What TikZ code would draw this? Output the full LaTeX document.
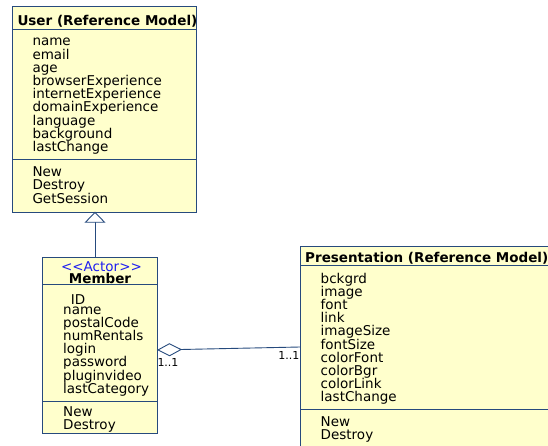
\documentclass[tikz,border=0pt]{standalone}
\usepackage{fontspec}
\setmainfont{DejaVu Sans}
\usetikzlibrary{arrows.meta}
\definecolor{umlborder}{RGB}{38,74,125}
\definecolor{umlfill}{RGB}{255,255,204}
\definecolor{stereoblue}{RGB}{30,30,240}
\tikzset{
  classbox/.style={draw=umlborder, fill=umlfill, line width=0.9pt, inner sep=0pt, anchor=north west},
  sepline/.style={draw=umlborder, line width=0.9pt},
  txt/.style={anchor=base west, inner sep=0pt, font=\fontsize{13.5}{13.2}\selectfont},
  ttl/.style={txt, font=\fontsize{13.5}{13.2}\selectfont\bfseries},
  mult/.style={anchor=base west, inner sep=0pt, font=\fontsize{11}{12}\selectfont},
  conn/.style={draw=umlborder, line width=0.9pt},
}
\begin{document}
\begin{tikzpicture}[x=1pt, y=-1pt]
\useasboundingbox (0,0) rectangle (548,446);
\fill[white] (0,0) rectangle (548,446);
\clip (0,0) rectangle (548,446);

% User class
\node[classbox, minimum width=184pt, minimum height=206pt] (user) at (12,6) {};
\draw[sepline] (user.west |- 0,29.3) -- (user.east |- 0,29.3);
\draw[sepline] (user.west |- 0,159.3) -- (user.east |- 0,159.3);
\node[ttl] (u-t) at (17.3,26) {User (Reference Model)};
\foreach \s [count=\i] in {name,email,age,browserExperience,internetExperience,domainExperience,language,background,lastChange}
  \node[txt] (u-a\i) at (32.3,{46+13.2*(\i-1)}) {\s};
\foreach \s [count=\i] in {New,Destroy,GetSession}
  \node[txt] (u-o\i) at (32.3,{176.7+13.2*(\i-1)}) {\s};

% Member class
\node[classbox, minimum width=115pt, minimum height=176pt] (member) at (42,257) {};
\draw[sepline] (member.west |- 0,284) -- (member.east |- 0,284);
\draw[sepline] (member.west |- 0,401) -- (member.east |- 0,401);
\node[txt, anchor=base, text=stereoblue] (m-s) at (101.5,271) {<{}<Actor>{}>};
\node[ttl, anchor=base] (m-t) at (100,283) {Member};
\node[txt] (m-id) at (70.7,304) {ID};
\foreach \s [count=\i] in {name,postalCode,numRentals,login,password,pluginvideo,lastCategory}
  \node[txt] (m-a\i) at (63,{314+13.2*(\i-1)}) {\s};
\foreach \s [count=\i] in {New,Destroy}
  \node[txt] (m-o\i) at (63,{416+13.2*(\i-1)}) {\s};

% Presentation class
\node[classbox, minimum width=270pt, minimum height=230pt] (pres) at (300,246) {};
\draw[sepline] (pres.west |- 0,265.7) -- (pres.east |- 0,265.7);
\draw[sepline] (pres.west |- 0,409.3) -- (pres.east |- 0,409.3);
\node[ttl] (p-t) at (305,262.7) {Presentation (Reference Model)};
\foreach \s [count=\i] in {bckgrd,image,font,link,imageSize,fontSize,colorFont,colorBgr,colorLink,lastChange}
  \node[txt] (p-a\i) at (320.5,{283.3+13.15*(\i-1)}) {\s};
\foreach \s [count=\i] in {New,Destroy}
  \node[txt] (p-o\i) at (320.5,{426.7+13.2*(\i-1)}) {\s};

% Generalization: Member -> User
\coordinate (g-top) at (95,211.7);
\coordinate (g-bot) at (95,257);
\draw[conn, -{Triangle[open, fill=white, length=11pt, width=21pt]}] (g-bot) -- (g-top);

% Aggregation: Member <>-- Presentation
\coordinate (a-m) at (157,350);
\coordinate (a-p) at (300,347);
\draw[conn, {Diamond[open, fill=white, length=25pt, width=13pt]}-] (a-m) -- (a-p);
\node[mult] (m1) at (157.3,366.7) {1..1};
\node[mult, anchor=base east] (m2) at (299.5,359) {1..1};
\end{tikzpicture}
\end{document}
